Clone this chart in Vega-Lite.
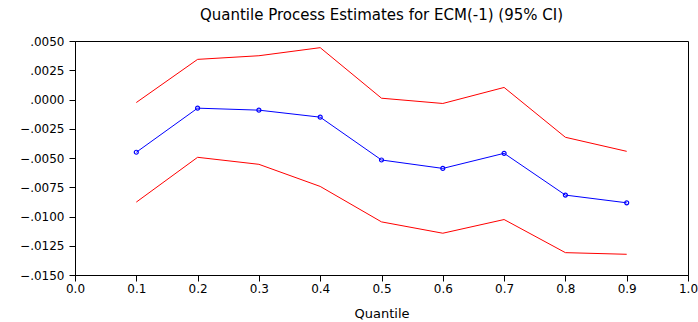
{
  "$schema": "https://vega.github.io/schema/vega-lite/v6.json",
  "width": 613,
  "height": 234,
  "autosize": {"type": "none"},
  "padding": {"left": 75, "top": 41, "right": 10, "bottom": 47},
  "background": "white",
  "title": {"text": "Quantile Process Estimates for ECM(-1) (95% CI)", "font": "DejaVu Sans", "fontSize": 15, "fontWeight": "normal", "color": "black", "anchor": "middle", "offset": 12},
  "config": {
    "view": {"stroke": "black", "strokeWidth": 1},
    "axis": {"labelFont": "DejaVu Sans", "titleFont": "DejaVu Sans", "labelFontSize": 12, "titleFontSize": 13, "titleFontWeight": "normal", "labelColor": "black", "titleColor": "black", "domainColor": "black", "tickColor": "black", "tickSize": 6, "grid": false}
  },
  "data": {"values": [
    {"q": 0.1, "s": "upper", "v": -0.00026},
    {"q": 0.2, "s": "upper", "v": 0.00343},
    {"q": 0.3, "s": "upper", "v": 0.00374},
    {"q": 0.4, "s": "upper", "v": 0.00443},
    {"q": 0.5, "s": "upper", "v": 0.00011},
    {"q": 0.6, "s": "upper", "v": -0.00034},
    {"q": 0.7, "s": "upper", "v": 0.00103},
    {"q": 0.8, "s": "upper", "v": -0.00323},
    {"q": 0.9, "s": "upper", "v": -0.00443},
    {"q": 0.1, "s": "est", "v": -0.00451},
    {"q": 0.2, "s": "est", "v": -0.00074},
    {"q": 0.3, "s": "est", "v": -0.00091},
    {"q": 0.4, "s": "est", "v": -0.00151},
    {"q": 0.5, "s": "est", "v": -0.00517},
    {"q": 0.6, "s": "est", "v": -0.00589},
    {"q": 0.7, "s": "est", "v": -0.0046},
    {"q": 0.8, "s": "est", "v": -0.00817},
    {"q": 0.9, "s": "est", "v": -0.00883},
    {"q": 0.1, "s": "lower", "v": -0.00877},
    {"q": 0.2, "s": "lower", "v": -0.00494},
    {"q": 0.3, "s": "lower", "v": -0.00554},
    {"q": 0.4, "s": "lower", "v": -0.00743},
    {"q": 0.5, "s": "lower", "v": -0.01046},
    {"q": 0.6, "s": "lower", "v": -0.01143},
    {"q": 0.7, "s": "lower", "v": -0.01026},
    {"q": 0.8, "s": "lower", "v": -0.01309},
    {"q": 0.9, "s": "lower", "v": -0.01323}
  ]},
  "encoding": {
    "x": {"field": "q", "type": "quantitative", "title": "Quantile",
      "scale": {"domain": [0, 1], "nice": false, "zero": false},
      "axis": {"values": [0, 0.1, 0.2, 0.3, 0.4, 0.5, 0.6, 0.7, 0.8, 0.9, 1.0], "format": ".1f", "labelPadding": 2, "titlePadding": 13, "labelFlush": false}},
    "y": {"field": "v", "type": "quantitative", "title": null,
      "scale": {"domain": [-0.015, 0.005], "nice": false, "zero": false},
      "axis": {"values": [-0.015, -0.0125, -0.01, -0.0075, -0.005, -0.0025, 0, 0.0025, 0.005], "labelExpr": "replace(format(datum.value, '.4f'), '0.', '.')", "labelPadding": 5, "labelFlush": false}},
    "color": {"field": "s", "type": "nominal", "legend": null,
      "scale": {"domain": ["upper", "est", "lower"], "range": ["#ff0000", "#0000ff", "#ff0000"]}}
  },
  "layer": [
    {"mark": {"type": "line", "strokeWidth": 1}, "encoding": {"detail": {"field": "s"}}},
    {"transform": [{"filter": "datum.s === 'est'"}],
     "mark": {"type": "point", "shape": "circle", "filled": false, "size": 16, "strokeWidth": 1.2, "opacity": 1}}
  ]
}
